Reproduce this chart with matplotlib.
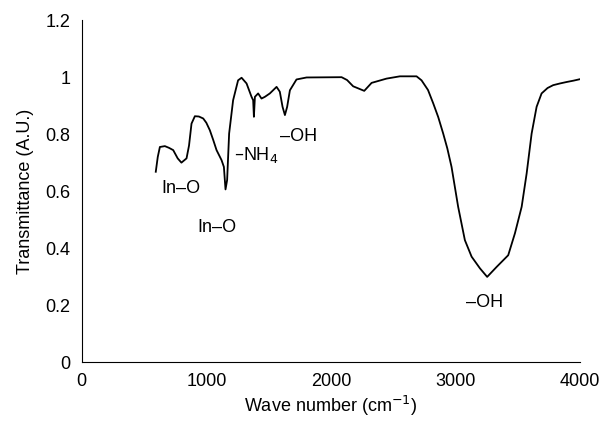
import matplotlib.pyplot as plt

plt.rcParams['font.family'] = ['Liberation Sans', 'DejaVu Sans']

# FTIR spectrum
wavenumber = [594, 610, 627, 667, 700, 734, 770, 800, 841, 861, 881, 908, 940, 975,
              1000, 1028, 1055, 1082, 1122, 1141, 1154, 1167, 1183, 1215, 1255, 1283,
              1323, 1363, 1376, 1382, 1390, 1416, 1443, 1470, 1510, 1564, 1590, 1612,
              1631, 1649, 1671, 1724, 1805, 2086, 2130, 2179, 2268, 2327, 2447, 2554,
              2688, 2728, 2780, 2822, 2862, 2902, 2935, 2969, 3022, 3076, 3130, 3197,
              3255, 3331, 3424, 3478, 3532, 3572, 3612, 3652, 3692, 3740, 3785, 3840,
              3892, 3950, 4000]
transmittance = [0.668, 0.72, 0.755, 0.758, 0.752, 0.744, 0.715, 0.70, 0.715, 0.76,
                 0.837, 0.863, 0.862, 0.855, 0.84, 0.814, 0.78, 0.744, 0.709, 0.685,
                 0.606, 0.639, 0.802, 0.919, 0.989, 0.998, 0.978, 0.931, 0.919, 0.861,
                 0.931, 0.943, 0.925, 0.931, 0.943, 0.966, 0.949, 0.896, 0.867, 0.896,
                 0.954, 0.992, 0.999, 1.0, 0.99, 0.968, 0.952, 0.980, 0.995, 1.003,
                 1.003, 0.989, 0.955, 0.908, 0.86, 0.802, 0.75, 0.685, 0.545, 0.428,
                 0.370, 0.329, 0.299, 0.334, 0.375, 0.452, 0.545, 0.662, 0.802, 0.896,
                 0.943, 0.962, 0.972, 0.978, 0.983, 0.988, 0.993]

labels = ['In\u2013O', 'In\u2013O', '\u2013NH$_4$', '\u2013OH', '\u2013OH']
label_x = [643, 932, 1221, 1590, 3237]
label_y = [0.61, 0.474, 0.726, 0.793, 0.21]
label_ha = ['left', 'left', 'left', 'left', 'center']

fig = plt.figure(figsize=(6.15, 4.21), dpi=100)
ax = fig.add_axes([0.133, 0.140, 0.810, 0.812])

ax.plot(wavenumber, transmittance, color='black', lw=1.3)

for t, x, y, ha in zip(labels, label_x, label_y, label_ha):
    ax.text(x, y, t, ha=ha, va='center', fontsize=13)

ax.set_xlim(0, 4000)
ax.set_ylim(0, 1.2)
ax.set_xticks([0, 1000, 2000, 3000, 4000])
ax.set_yticks([0, 0.2, 0.4, 0.6, 0.8, 1.0, 1.2])
ax.set_yticklabels(['0', '0.2', '0.4', '0.6', '0.8', '1', '1.2'])
ax.tick_params(length=0, labelsize=13, pad=8)
ax.spines['top'].set_visible(False)
ax.spines['right'].set_visible(False)
ax.set_xlabel('Wave number (cm$^{-1}$)', fontsize=13, labelpad=3)
ax.set_ylabel('Transmittance (A.U.)', fontsize=13, labelpad=8)

fig.savefig('out.png', dpi=100)
